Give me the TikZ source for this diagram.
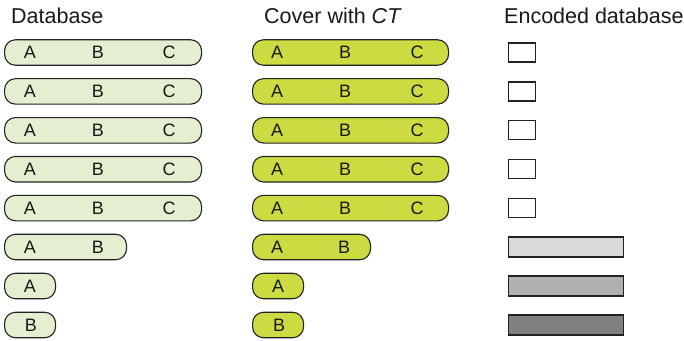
\documentclass[tikz,border=0pt]{standalone}
\usepackage{fontspec}
\setmainfont{Liberation Sans}
\definecolor{dbfill}{HTML}{E4EFD2}
\definecolor{ctfill}{HTML}{CBDB41}
\definecolor{encA}{HTML}{D9D9D9}
\definecolor{encB}{HTML}{B0B0B0}
\definecolor{encC}{HTML}{808080}
\definecolor{edge}{HTML}{222222}
\begin{document}
\begin{tikzpicture}[x=1pt,y=-1pt,
  pill/.style={draw=edge, line width=1.1pt, rounded corners=11pt, minimum height=25.5pt, inner sep=0pt, anchor=west},
  dbpill/.style={pill, fill=dbfill},
  ctpill/.style={pill, fill=ctfill},
  encbox/.style={draw=edge, line width=1.3pt, inner sep=0pt, anchor=west, minimum height=19pt},
  letter/.style={font=\fontsize{18}{20}\selectfont, inner sep=0pt, text=black!90},
  title/.style={font=\fontsize{21.5}{24}\selectfont, anchor=base west, inner sep=0pt, text=black!90}]
\useasboundingbox (0,0) rectangle (684,340);
\node[title] (t1) at (11,23) {Database};
\node[title] (t2) at (264,23) {Cover with \textit{CT}};
\node[title] (t3) at (504,23) {Encoded database};
% full rows
\foreach \i in {1,...,5}{
  \pgfmathsetmacro{\yy}{52.5+38.9*(\i-1)}
  \node[dbpill, minimum width=197pt] (db\i) at (4,\yy) {};
  \node[letter] (dbA\i) at (30,\yy) {A};
  \node[letter] (dbB\i) at (98,\yy) {B};
  \node[letter] (dbC\i) at (169,\yy) {C};
  \node[ctpill, minimum width=196pt] (ct\i) at (252,\yy) {};
  \node[letter] (ctA\i) at (277,\yy) {A};
  \node[letter] (ctB\i) at (345,\yy) {B};
  \node[letter] (ctC\i) at (417,\yy) {C};
  \node[encbox, minimum width=27pt] (en\i) at (508,\yy) {};
}
% row 6
\node[dbpill, minimum width=122pt] (db6) at (4,247) {};
\node[letter] (dbA6) at (30,247) {A};
\node[letter] (dbB6) at (98,247) {B};
\node[ctpill, minimum width=118pt] (ct6) at (252,247) {};
\node[letter] (ctA6) at (277,247) {A};
\node[letter] (ctB6) at (344,247) {B};
\node[encbox, fill=encA, minimum width=115pt, minimum height=20pt] (en6) at (508,247) {};
% row 7
\node[dbpill, minimum width=51pt] (db7) at (4,286) {};
\node[letter] (dbA7) at (30,286) {A};
\node[ctpill, minimum width=51pt] (ct7) at (252,286) {};
\node[letter] (ctA7) at (278,286) {A};
\node[encbox, fill=encB, minimum width=115pt, minimum height=20pt] (en7) at (508,286) {};
% row 8
\node[dbpill, minimum width=51pt] (db8) at (4,325) {};
\node[letter] (dbB8) at (31,325) {B};
\node[ctpill, minimum width=51pt] (ct8) at (252,325) {};
\node[letter] (ctB8) at (279,325) {B};
\node[encbox, fill=encC, minimum width=115pt, minimum height=20pt] (en8) at (508,325) {};
\end{tikzpicture}
\end{document}
